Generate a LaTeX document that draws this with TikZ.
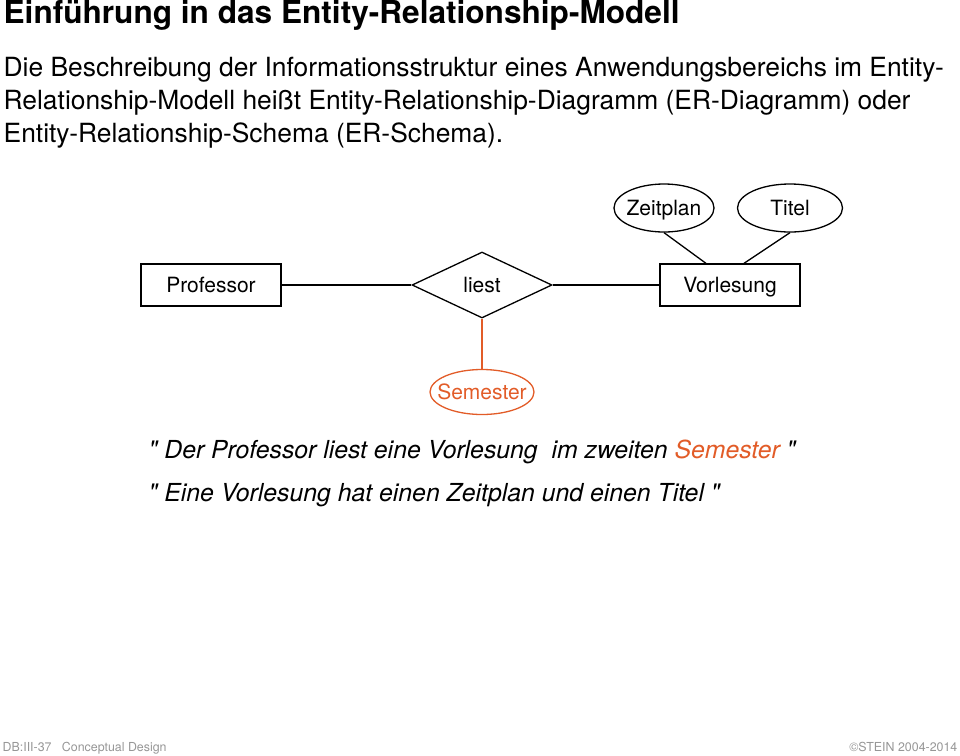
\documentclass[tikz,border=0pt]{standalone}
\usepackage{fontspec}
\setmainfont{TeX Gyre Heros}
\newfontfamily\quotefont{TeX Gyre Heros}
\usetikzlibrary{shapes.geometric}
\definecolor{semorange}{RGB}{226,92,40}
\definecolor{footgray}{RGB}{150,150,150}
\begin{document}
\begin{tikzpicture}[x=0.5pt,y=-0.5pt,line width=0.65pt,
  ertext/.style={font=\fontsize{10.5}{12}\selectfont,text height=7.5pt,text depth=0pt},
  entity/.style={draw,ertext,minimum width=70pt,minimum height=21pt,inner sep=0pt},
  relation/.style={draw,diamond,ertext,minimum width=70pt,minimum height=33pt,aspect=2,inner sep=0pt},
  attrib/.style={draw,ellipse,ertext,minimum height=24pt,inner sep=-10pt},
  bodytext/.style={anchor=base west,inner sep=0pt,font=\fontsize{13.2}{16}\selectfont},
  quote/.style={anchor=base west,inner sep=0pt,font=\fontsize{12.4}{15}\selectfont\quotefont\itshape}]
  \useasboundingbox (0,0) rectangle (960,756);
  % header
  \node[anchor=base west,inner sep=0pt,font=\fontsize{15.8}{18}\selectfont\bfseries] (title) at (3,23) {Einführung in das Entity-Relationship-Modell};
  \node[bodytext] (line1) at (3,76) {Die Beschreibung der Informationsstruktur eines Anwendungsbereichs im Entity-};
  \node[bodytext] (line2) at (3,109) {Relationship-Modell heißt Entity-Relationship-Diagramm (ER-Diagramm) oder};
  \node[bodytext] (line3) at (3,142) {Entity-Relationship-Schema (ER-Schema).};
  % ER diagram
  \node[entity] (prof) at (211,285) {Professor};
  \node[relation] (liest) at (482,285) {liest};
  \node[entity] (vorl) at (730,285) {Vorlesung};
  \node[attrib,minimum width=50pt] (zeit) at (664,208) {Zeitplan};
  \node[attrib,minimum width=52.5pt] (titel) at (790,208) {Titel};
  \node[attrib,minimum width=52pt,minimum height=22.5pt,draw=semorange,text=semorange] (sem) at (482,392) {Semester};
  \draw (prof.east) -- (liest.west);
  \draw (liest.east) -- (vorl.west);
  \draw (zeit.south) -- ([xshift=-12pt]vorl.north);
  \draw (titel.south) -- ([xshift=7pt]vorl.north);
  \draw[semorange] (liest.south) -- (sem.north);
  % sentences
  \node[quote] (q1) at (148,458) {" Der Professor liest eine Vorlesung\ \ im zweiten \textcolor{semorange}{Semester} "};
  \node[quote] (q2) at (148,501) {" Eine Vorlesung hat einen Zeitplan und einen Titel "};
  % footer
  \node[anchor=base west,inner sep=0pt,text=footgray,font=\fontsize{6.2}{7}\selectfont] (foot1) at (2,751) {DB:III-37\ \ \ Conceptual Design};
  \node[anchor=base east,inner sep=0pt,text=footgray,font=\fontsize{6.2}{7}\selectfont] (foot2) at (958,751) {©STEIN 2004-2014};
\end{tikzpicture}
\end{document}
